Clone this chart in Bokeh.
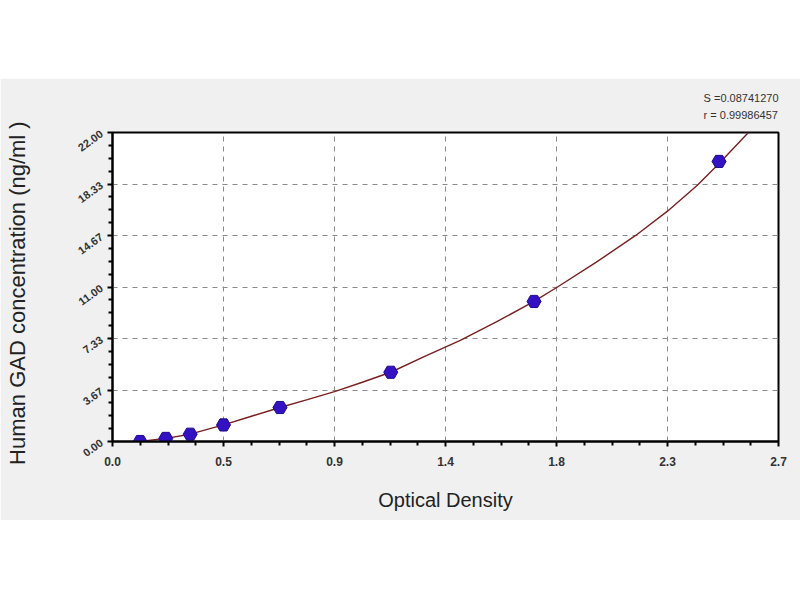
from bokeh.plotting import figure
from bokeh.models import Range1d, FixedTicker, Title, Spacer
from bokeh.layouts import column
from bokeh.embed import file_html
from bokeh.resources import INLINE
import math

# standards
od = [0.112, 0.216, 0.315, 0.45, 0.679, 1.128, 1.709, 2.459]
conc = [0.0, 0.22, 0.52, 1.18, 2.42, 4.93, 9.97, 19.94]

# fitted curve, sampled along the drawn line
curve_od = [0.11, 0.216, 0.315, 0.45, 0.56, 0.679, 0.79, 0.9, 1.01, 1.128,
            1.27, 1.41, 1.56, 1.709, 1.804, 1.96, 2.121, 2.25, 2.371, 2.459, 2.578]
curve_conc = [0.0, 0.22, 0.52, 1.18, 1.78, 2.42, 2.98, 3.55, 4.2, 4.93,
              6.1, 7.2, 8.55, 9.97, 11.0, 12.75, 14.67, 16.4, 18.25, 19.8, 22.0]

x_ticks = [0.0, 0.45, 0.9, 1.35, 1.8, 2.25, 2.7]
x_tick_labels = ["0.0", "0.5", "0.9", "1.4", "1.8", "2.3", "2.7"]
y_ticks = [0.0, 22 / 6, 44 / 6, 11.0, 88 / 6, 110 / 6, 22.0]
y_tick_labels = ["0.00", "3.67", "7.33", "11.00", "14.67", "18.33", "22.00"]

fit_text = ["S =0.08741270", "r = 0.99986457"]

GRAY = "#f0f0f0"
FONT = "Liberation Sans"


def minors(ticks, n=4):
    out = []
    for a, b in zip(ticks[:-1], ticks[1:]):
        out += [a + (b - a) * k / n for k in range(1, n)]
    return out


p = figure(
    frame_width=666, frame_height=309,
    min_border_left=112, min_border_right=22,
    min_border_top=54, min_border_bottom=79,
    x_range=Range1d(0, 2.7), y_range=Range1d(0, 22),
    output_backend="svg", toolbar_location=None,
)
p.border_fill_color = GRAY
p.background_fill_color = "white"
p.outline_line_color = "black"
p.outline_line_width = 2

p.xaxis.ticker = FixedTicker(ticks=x_ticks, minor_ticks=minors(x_ticks))
p.xaxis.major_label_overrides = dict(zip(x_ticks, x_tick_labels))
p.yaxis.ticker = FixedTicker(ticks=y_ticks, minor_ticks=minors(y_ticks))
p.yaxis.major_label_overrides = dict(zip(y_ticks, y_tick_labels))
p.yaxis.major_label_orientation = math.pi / 5

for ax in (p.xaxis, p.yaxis):
    ax.axis_line_width = 2
    ax.axis_line_color = "black"
    ax.major_tick_in = 0
    ax.major_tick_out = 5
    ax.minor_tick_in = 0
    ax.minor_tick_out = 4
    ax.major_tick_line_width = 2
    ax.minor_tick_line_width = 2
    ax.major_label_text_font = FONT
    ax.major_label_text_font_style = "bold"
    ax.major_label_text_color = "#333333"
    ax.axis_label_text_font = FONT
    ax.axis_label_text_font_style = "normal"
    ax.axis_label_text_color = "#222222"

p.xaxis.major_label_text_font_size = "12px"
p.yaxis.major_label_text_font_size = "11px"
p.xaxis.major_label_standoff = 10
p.yaxis.major_label_standoff = 6

p.xaxis.axis_label = "Optical Density"
p.xaxis.axis_label_text_font_size = "20px"
p.xaxis.axis_label_standoff = 20
p.yaxis.axis_label = "Human  GAD  concentration (ng/ml )"
p.yaxis.axis_label_text_font_size = "22px"
p.yaxis.axis_label_standoff = 42

p.grid.grid_line_color = "#8a8a8a"
p.grid.grid_line_dash = "5 5"
p.grid.grid_line_width = 1

p.line(curve_od, curve_conc, line_color="#7a1f1f", line_width=1.4)
p.scatter(od, conc, marker="hex", size=14, fill_color="#3412c4",
          line_color="#1c0a8c", line_width=1)

# fit statistics in the top border, right aligned
p.add_layout(Title(text="\n".join(fit_text), align="right",
                   text_font=FONT, text_font_size="11px", text_font_style="normal",
                   text_line_height=1.4, text_color="#333333", standoff=23),
             "above")

layout = column(Spacer(width=800, height=78), p)
open("out.html", "w").write(file_html(layout, INLINE))
